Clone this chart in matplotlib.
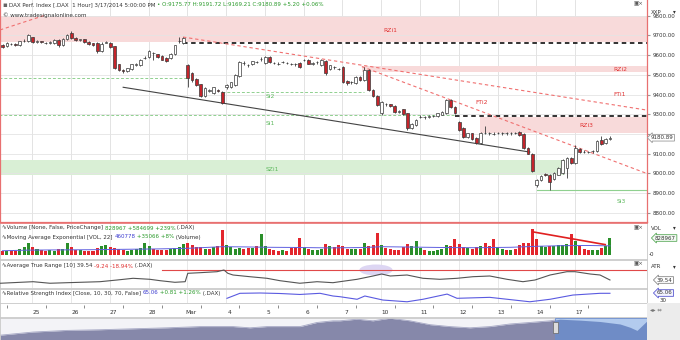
import numpy as np
import matplotlib.pyplot as plt
from matplotlib.patches import Rectangle, Ellipse
from matplotlib.text import Annotation

W, H = 680, 340

# ---- DAX 1 hour bars, 24 Feb (partial) .. 17 Mar 2014 ----
opens = [9652, 9645, 9657, 9656, 9652, 9672, 9672,
         9690, 9668, 9669, 9664, 9664, 9660, 9677, 9652, 9680,
         9712, 9685, 9678, 9680, 9667, 9660, 9662, 9620, 9664,
         9662, 9646, 9553, 9527, 9520, 9530, 9552, 9550, 9586,
         9592, 9612, 9605, 9598, 9588, 9585, 9605, 9672, 9662,
         9550, 9510, 9479, 9452, 9394, 9420, 9410, 9422, 9414,
         9440, 9437, 9448, 9495, 9558, 9548, 9553, 9565, 9580,
         9561, 9592, 9560, 9557, 9563, 9560, 9557, 9553, 9561,
         9575, 9575, 9557, 9563, 9548, 9571, 9530, 9540, 9530,
         9541, 9470, 9462, 9460, 9490, 9474, 9524, 9423, 9392,
         9305, 9350, 9350, 9342, 9313, 9325, 9305, 9228, 9245,
         9288, 9285, 9288, 9292, 9290, 9297, 9305, 9372, 9338,
         9262, 9230, 9185, 9203, 9178, 9155, 9204, 9204, 9200,
         9204, 9204, 9204, 9203, 9204, 9212, 9200, 9128, 9098,
         8943, 8965, 8994, 8994, 8970, 8994, 9002, 9028, 9078,
         9053, 9125, 9110, 9108, 9111, 9112, 9168, 9152, 9175.77]
highs = [9658, 9666, 9662, 9660, 9674, 9680, 9708,
         9694, 9676, 9674, 9669, 9670, 9680, 9681, 9685, 9706,
         9722, 9690, 9684, 9683, 9670, 9663, 9666, 9668, 9672,
         9668, 9648, 9556, 9530, 9536, 9557, 9560, 9578, 9594,
         9624, 9618, 9608, 9600, 9591, 9609, 9654, 9692, 9692,
         9555, 9514, 9484, 9456, 9440, 9428, 9440, 9428, 9418,
         9452, 9466, 9503, 9572, 9572, 9556, 9572, 9572, 9590,
         9598, 9596, 9567, 9563, 9568, 9566, 9562, 9559, 9564,
         9582, 9580, 9563, 9570, 9580, 9575, 9552, 9546, 9536,
         9545, 9474, 9470, 9494, 9494, 9541, 9528, 9428, 9396,
         9368, 9358, 9354, 9346, 9320, 9328, 9308, 9254, 9274,
         9295, 9292, 9296, 9297, 9308, 9316, 9378, 9375, 9342,
         9266, 9234, 9207, 9207, 9182, 9210, 9240, 9212, 9208,
         9210, 9212, 9210, 9210, 9210, 9216, 9203, 9132, 9102,
         8972, 8993, 9000, 8998, 9006, 9032, 9074, 9082, 9082,
         9146, 9130, 9116, 9114, 9118, 9170, 9190, 9180, 9191.72]
lows = [9636, 9641, 9650, 9647, 9648, 9665, 9668,
        9662, 9661, 9663, 9657, 9658, 9656, 9640, 9645, 9676,
        9684, 9674, 9673, 9664, 9653, 9646, 9612, 9615, 9660,
        9638, 9530, 9518, 9508, 9515, 9527, 9546, 9546, 9580,
        9588, 9575, 9586, 9573, 9563, 9580, 9600, 9660, 9658,
        9438, 9465, 9444, 9388, 9390, 9412, 9405, 9414, 9350,
        9430, 9434, 9444, 9490, 9548, 9542, 9548, 9558, 9572,
        9556, 9560, 9553, 9550, 9558, 9554, 9550, 9547, 9536,
        9568, 9553, 9551, 9557, 9544, 9500, 9525, 9532, 9524,
        9460, 9450, 9455, 9456, 9470, 9470, 9418, 9386, 9340,
        9298, 9344, 9336, 9308, 9307, 9296, 9222, 9224, 9240,
        9280, 9278, 9282, 9287, 9286, 9294, 9300, 9334, 9300,
        9215, 9180, 9180, 9170, 9150, 9150, 9198, 9196, 9194,
        9198, 9197, 9197, 9197, 9198, 9192, 9126, 9096, 9008,
        8932, 8960, 8988, 8913, 8965, 8990, 8998, 8978, 9048,
        9048, 9104, 9104, 9102, 9105, 9108, 9146, 9148, 9169.21]
closes = [9643, 9662, 9655, 9652, 9670, 9673, 9703,
          9666, 9670, 9668, 9662, 9665, 9676, 9650, 9680, 9702,
          9688, 9678, 9679, 9668, 9658, 9650, 9620, 9655, 9666,
          9642, 9535, 9525, 9518, 9533, 9553, 9554, 9575, 9588,
          9620, 9610, 9590, 9577, 9568, 9605, 9650, 9674, 9688,
          9484, 9473, 9448, 9394, 9433, 9421, 9437, 9420, 9355,
          9448, 9462, 9499, 9567, 9560, 9550, 9568, 9567, 9582,
          9592, 9565, 9561, 9556, 9563, 9561, 9556, 9554, 9541,
          9574, 9557, 9558, 9564, 9575, 9508, 9548, 9538, 9530,
          9465, 9457, 9463, 9490, 9474, 9524, 9423, 9392, 9347,
          9363, 9351, 9340, 9313, 9313, 9300, 9228, 9250, 9270,
          9287, 9286, 9289, 9292, 9305, 9313, 9372, 9338, 9305,
          9220, 9185, 9203, 9175, 9155, 9206, 9205, 9203, 9201,
          9204, 9205, 9203, 9204, 9204, 9196, 9130, 9100, 9013,
          8968, 8989, 8993, 8955, 9003, 9028, 9070, 9078, 9053,
          9130, 9110, 9109, 9109, 9112, 9165, 9150, 9176, 9180.89]
volumes = [230, 200, 190, 220, 330, 380, 590,
           410, 320, 240, 220, 240, 220, 300, 330, 590,
           400, 270, 240, 230, 220, 210, 350, 440, 500,
           410, 350, 320, 260, 230, 260, 310, 370, 600,
           440, 300, 250, 250, 270, 330, 350, 400, 530,
           620, 480, 380, 400, 320, 300, 380, 460, 1220,
           480, 380, 320, 340, 310, 340, 370, 440, 1070,
           440, 320, 240, 220, 240, 230, 340, 400, 830,
           420, 310, 240, 260, 300, 560, 440, 410, 520,
           460, 320, 300, 320, 290, 600, 460, 490, 1120,
           480, 370, 290, 280, 260, 420, 540, 440, 710,
           350, 250, 230, 220, 270, 300, 480, 440, 780,
           540, 380, 340, 320, 400, 470, 580, 440, 810,
           400, 300, 240, 280, 320, 520, 600, 620, 1270,
           780, 470, 400, 440, 450, 490, 510, 550, 1070,
           720, 440, 320, 270, 240, 270, 360, 440, 829]  # thousands

day_labels = ['25', '26', '27', '28', 'Mar', '4', '5', '6', '7',
              '10', '11', '12', '13', '14', '17']

# volume EMA(22) (bar, thousands)
ema_bar = [0, 6, 12, 20, 28, 36, 43, 51, 56, 62, 69, 76, 84, 88, 95,
           102, 110, 118, 124, 130, 136, 141]
ema_vol = [220, 250, 260, 270, 290, 310, 340, 420, 410, 390, 380, 360,
           380, 420, 400, 380, 370, 390, 440, 470, 480, 461]
vol_trend_bar = [123.2, 139.9]
vol_trend_val = [1148, 523]

# ATR(10)
atr_bar = [-0.5, 7.1, 11, 15, 22.6, 26.6, 30.3, 34.2, 36.6, 40, 42.4, 43,
           45.8, 49.8, 51.4, 52.3, 53.5, 57.4, 61.4, 64.4, 69, 73, 76.7,
           78.3, 82.3, 86, 88, 90, 93.9, 97.6, 101.5, 105.5, 109.2, 113.1,
           117.1, 120.8, 123.6, 127.1, 131, 132.9, 136.4, 138.7, 141]
atr_val = [33.0, 36.1, 33.0, 34.1, 36.1, 39.5, 42.9, 40.9, 38.1, 34.9, 36.1,
           52.9, 54.1, 56.1, 59.5, 52.9, 49.5, 46.1, 42.9, 38.1, 33.0, 36.1,
           34.1, 36.1, 40.9, 47.5, 51.5, 47.5, 49.5, 42.9, 40.9, 42.9, 46.1,
           47.5, 40.9, 36.1, 39.5, 49.5, 56.1, 56.1, 51.5, 49.5, 39.54]
atr_level = 60.5

# RSI(10)
rsi_bar = [52.1, 55.1, 59.8, 64.4, 69, 73.7, 76.7, 78.3, 82.3, 84.1, 88.3,
           93.9, 97.6, 103.2, 105.5, 113.1, 122.4, 127.1, 132.4, 138.7, 141]
rsi_val = [39, 65, 66.6, 64, 59, 65, 51, 47.4, 34, 51, 30, 21, 34, 61, 39,
           44, 21, 34, 56, 65, 65.06]

# navigator (longer history of the index)
nav_t = [0, 33, 67, 100, 133, 167, 200, 233, 250, 267, 300, 317, 333, 340,
         357, 373, 390, 410, 430, 450, 470, 490, 510, 530, 550, 560, 580,
         600, 620, 630, 637, 647]
nav_v = [8605, 8806, 8910, 8953, 9014, 9075, 9154, 9154, 9075, 9154, 9154,
         9416, 9520, 9520, 9624, 9520, 9685, 9520, 9276, 9154, 9075, 9154,
         9319, 9416, 9520, 9624, 9563, 9477, 9319, 9111, 8910, 9520]

# drawing tools on the price chart
zone_names = ['RZi1', 'RZi2', 'RZi3', 'SZi1']
zone_low = [9668, 9516, 9205, 8990]
zone_high = [9800, 9545, 9285, 9067]
zone_from = [-1, 83.4, 110.8, -1]
zone_to = [150, 150, 150, 130.6]

level_price = [9483, 9415, 9297, 9660, 9289, 8913]
level_from = [-1, 51, -1, 42, 105, 124]
level_to = [43, 84, 105, 150, 150, 150]
level_kind = ['sup', 'sup', 'sup', 'res', 'res', 'sup_solid']

trend_x0 = [-0.6, 41.9, 83.4, 28.0]
trend_p0 = [9728, 9692, 9542, 9437]
trend_x1 = [9.9, 149.6, 149.6, 122.4]
trend_p1 = [9803, 9321, 8999, 9108]
trend_kind = ['fan', 'fan', 'fan', 'line']


def px_box(x0, y0, x1, y1):
    return [x0 / W, 1 - y1 / H, (x1 - x0) / W, (y1 - y0) / H]


def bx(px):
    return (px - 2.54) / 4.308


def pr(py):
    return 9800 - (py - 15.7) / 0.1976


def fx(px):
    return px / W


def fy(py):
    return 1 - py / H


def rich(fig, x, y, parts, size):
    t = fig.text(fx(x), fy(y), parts[0][0], color=parts[0][1], size=size,
                 va='center', ha='left', zorder=10)
    for s, col in parts[1:]:
        t = fig.add_artist(Annotation(s, xy=(1, 0), xycoords=t, va='bottom',
                                      ha='left', color=col, size=size,
                                      annotation_clip=False, zorder=10))
    return t


FS = 4.0
DARK = '#333333'
GREEN = '#2a9a2a'
RED_TXT = '#e03030'
BLUE = '#3c3cd0'
XL = (-0.59, 149.6)

plt.rcParams['font.family'] = ['DejaVu Sans']
fig = plt.figure(figsize=(6.8, 3.4), dpi=100)
fig.patch.set_facecolor('white')

n = len(closes)
x = np.arange(n)
o = np.array(opens)
c = np.array(closes)
day_start = [7 + 9 * k for k in range(len(day_labels))]

# ---------------- price panel ----------------
ax = fig.add_axes(px_box(0, 0, 647, 222))
ax.set_xlim(*XL)
ax.set_ylim(8753, 9880)
ticks = np.arange(8800, 9801, 100)
ax.set_yticks(ticks)
ax.set_yticklabels(['' if t == 9200 else f'{t:.2f}' for t in ticks])
ax.yaxis.tick_right()
ax.tick_params(axis='y', labelsize=FS, length=2, pad=2, color='#999999',
               labelcolor=DARK)
ax.set_xticks([])
ax.grid(axis='y', color='#e4e4e4', lw=0.6, zorder=0)
for d in day_start:
    ax.axvline(d - 0.1, color='#dedede', lw=0.6, zorder=0)
for sp in ['left', 'right', 'bottom']:
    ax.spines[sp].set_color('#e87070')
    ax.spines[sp].set_linewidth(0.9)
ax.spines['top'].set_visible(False)

for name, lo, hi, a, b in zip(zone_names, zone_low, zone_high, zone_from, zone_to):
    col = '#d9efd5' if name.startswith('S') else '#f8dada'
    ax.add_patch(Rectangle((a, lo), b - a, hi - lo, facecolor=col,
                           edgecolor='none', zorder=1))

for p, a, b, k in zip(level_price, level_from, level_to, level_kind):
    if k == 'sup':
        ax.plot([a, b], [p, p], color='#8fd08f', lw=0.7, ls=(0, (3, 2)), zorder=2)
    elif k == 'sup_solid':
        ax.plot([a, b], [p, p], color='#8fd08f', lw=0.8, zorder=2)
    else:
        ax.plot([a, b], [p, p], color='#222222', lw=1.3, ls=(0, (2.5, 2)), zorder=2)

for x0, p0, x1, p1, k in zip(trend_x0, trend_p0, trend_x1, trend_p1, trend_kind):
    if k == 'fan':
        ax.plot([x0, x1], [p0, p1], color='#f07070', lw=0.8, ls=(0, (3, 2.5)), zorder=2)
    else:
        ax.plot([x0, x1], [p0, p1], color='#444444', lw=0.8, zorder=2)

up = c >= o
body_lo = np.minimum(o, c)
body_h = np.maximum(np.abs(c - o), 1.5)
ax.vlines(x, lows, highs, color='#3a3a3a', lw=0.6, zorder=3)
ax.bar(x, body_h, bottom=body_lo, width=0.62,
       color=np.where(up, 'white', '#c4242b'), edgecolor='#3a3a3a',
       linewidth=0.5, zorder=4)

lab_kw = dict(size=FS + 0.3, ha='center', va='center', zorder=5)
ax.text(bx(390), pr(30), 'RZi1', color=RED_TXT, **lab_kw)
ax.text(bx(620), pr(70), 'RZi2', color=RED_TXT, **lab_kw)
ax.text(bx(620), pr(95), 'FTi1', color=RED_TXT, **lab_kw)
ax.text(bx(482), pr(103), 'FTi2', color=RED_TXT, **lab_kw)
ax.text(bx(586), pr(126), 'RZi3', color=RED_TXT, **lab_kw)
ax.text(bx(270), pr(97), 'Si2', color='#5cb85c', **lab_kw)
ax.text(bx(270), pr(124), 'Si1', color='#5cb85c', **lab_kw)
ax.text(bx(272), pr(170), 'SZi1', color='#5cb85c', **lab_kw)
ax.text(bx(621), pr(202), 'Si3', color='#5cb85c', **lab_kw)

ax.text(1.006, closes[-1], f'{closes[-1]:.2f}', transform=ax.get_yaxis_transform(),
        size=FS, va='center', ha='left', color=DARK, zorder=6,
        bbox=dict(boxstyle='larrow,pad=0.15', fc='white', ec='#999999', lw=0.6))

# ---------------- volume panel ----------------
av = fig.add_axes(px_box(0, 223, 647, 259))
av.set_xlim(*XL)
av.set_ylim(-188, 1590)
prev = np.concatenate([[c[0] + 1], c[:-1]])
vcol = np.where(c > prev, '#2a8f2a', '#e3262d')
av.bar(x, volumes, width=0.7, color=vcol, zorder=2)
av.plot(ema_bar, ema_vol, color='#6060e0', lw=0.7, zorder=3)
av.plot(vol_trend_bar, vol_trend_val, color='#e02020', lw=1.2, zorder=4)
for d in day_start:
    av.axvline(d - 0.1, color='#e4e4e4', lw=0.6, zorder=0)

# ---------------- ATR panel ----------------
aa = fig.add_axes(px_box(0, 260, 647, 288))
aa.set_xlim(*XL)
aa.set_ylim(23.5, 79.5)
aa.add_patch(Ellipse((bx(376), 59.5), 7.7, 22, facecolor='#ddd6f3',
                     edgecolor='none', zorder=1))
aa.plot([bx(162), XL[1]], [atr_level, atr_level], color='#e04848', lw=0.8, zorder=2)
aa.plot(atr_bar, atr_val, color='#555555', lw=0.8, zorder=3)
for d in day_start:
    aa.axvline(d - 0.1, color='#e4e4e4', lw=0.6, zorder=0)

# ---------------- RSI panel ----------------
ar = fig.add_axes(px_box(0, 289, 647, 303))
ar.set_xlim(*XL)
ar.set_ylim(14.6, 87.4)
ar.plot(rsi_bar, rsi_val, color='#5a5ae0', lw=0.8, zorder=3)
for d in day_start:
    ar.axvline(d - 0.1, color='#e4e4e4', lw=0.6, zorder=0)

# ---------------- date axis ----------------
ad = fig.add_axes(px_box(0, 303, 647, 317))
ad.set_xlim(*XL)
ad.set_ylim(0, 1)
for d, lab in zip(day_start, day_labels):
    ad.text(d + 0.8, 0.35, lab, size=FS + 0.2, ha='center', va='center', color=DARK)
ad.vlines([s + 3 for s in [-2] + day_start], 0.62, 0.85, color='#777777', lw=0.6)

# ---------------- navigator ----------------
an = fig.add_axes(px_box(0, 318, 647, 340))
an.set_xlim(0, 647)
an.set_ylim(8300, 9700)
an.set_facecolor('#f3f3f7')
an.fill_between(nav_t, nav_v, 8300, color='#8688aa', lw=0, zorder=1)
an.plot(nav_t, nav_v, color='#a5a7c4', lw=0.6, zorder=2)
an.add_patch(Rectangle((555, 8300), 92, 1400, facecolor='#b3cbee', edgecolor='#6d8fcf',
                       lw=0.6, zorder=3))
blue = an.fill_between(nav_t, nav_v, 8300, color='#6f8cc6', lw=0, zorder=4)
blue.set_clip_path(Rectangle((555, 8300), 92, 1400, transform=an.transData))
an.add_patch(Rectangle((552.5, 8750), 5, 700, facecolor='#dcdcdc',
                       edgecolor='#666666', lw=0.5, zorder=5))

for a_ in [av, aa, ar, ad, an]:
    a_.set_xticks([])
    a_.set_yticks([])
    for sp in a_.spines.values():
        sp.set_color('#c8c8c8')
        sp.set_linewidth(0.6)
av.spines['top'].set_color('#e87070')

# right strip background for the lower rows
fig.patches.append(Rectangle((fx(647), 0), 1 - fx(647), fy(303), transform=fig.transFigure,
                             facecolor='#ececec', edgecolor='none', zorder=0))

# ---------------- texts ----------------
rich(fig, 9, 5, [('DAX Perf. Index [.DAX  1 Hour] 3/17/2014 5:00:00 PM ', DARK),
                 ('\u2022 O:9175.77 H:9191.72 L:9169.21 C:9180.89 +5.20 +0.06%', GREEN)], FS)
fig.text(fx(2), fy(5), '\u25aa', size=FS + 1, color='#666666', va='center')
fig.text(fx(3), fy(15), '\u00a9 www.tradesignalonline.com', size=FS, color=DARK, va='center')

rich(fig, 2, 228, [('\u223fVolume [None, False, PriceChange] ', DARK),
                   ('828967 +584699 +239%', GREEN), (' (.DAX)', DARK)], FS)
rich(fig, 2, 237, [('\u223fMoving Average Exponential [VOL, 22] ', DARK),
                   ('460778', BLUE), (' +35066 +8%', GREEN), (' (Volume)', DARK)], FS)
rich(fig, 2, 266, [('\u223fAverage True Range [10] 39.54 ', DARK),
                   ('-9.24 -18.94%', RED_TXT), (' (.DAX)', DARK)], FS)
rich(fig, 2, 293, [('\u223fRelative Strength Index [Close, 10, 30, 70, False] ', DARK),
                   ('65.06', BLUE), (' +0.81 +1.26%', GREEN), (' (.DAX)', DARK)], FS)

for yy in [4, 228, 264]:
    fig.text(fx(633), fy(yy), '\u25a3\u00d7', size=FS, color='#555555', va='center')
fig.text(fx(651), fy(12), 'XXP', size=FS, color=DARK, va='center')
fig.text(fx(673), fy(12), '\u25be', size=FS, color=DARK, va='center')
fig.text(fx(651), fy(228), 'VOL', size=FS, color=DARK, va='center')
fig.text(fx(673), fy(228), '\u25be', size=FS, color=DARK, va='center')
fig.text(fx(651), fy(266), 'ATR', size=FS, color=DARK, va='center')
fig.text(fx(673), fy(267), '\u25be', size=FS, color=DARK, va='center')
fig.text(fx(649), fy(254), '-0', size=FS, color=DARK, va='center')
fig.text(fx(660), fy(300), '30', size=FS, color=DARK, va='center')

box_kw = dict(size=FS, va='center', ha='left', color=DARK)
fig.text(fx(655), fy(238), '828967',
         bbox=dict(boxstyle='larrow,pad=0.15', fc='#f4fbf4', ec='#5aaa5a', lw=0.6), **box_kw)
fig.text(fx(657), fy(280), '39.54',
         bbox=dict(boxstyle='larrow,pad=0.15', fc='white', ec='#888888', lw=0.6), **box_kw)
fig.text(fx(657), fy(293), '65.06',
         bbox=dict(boxstyle='larrow,pad=0.15', fc='#f4f4ff', ec='#5a5ad0', lw=0.6), **box_kw)
fig.text(fx(650), fy(310), '\u25c2\u25b8 \u21d4', size=FS, color='#777777', va='center')

fig.savefig('out.png', dpi=100, facecolor='white')
